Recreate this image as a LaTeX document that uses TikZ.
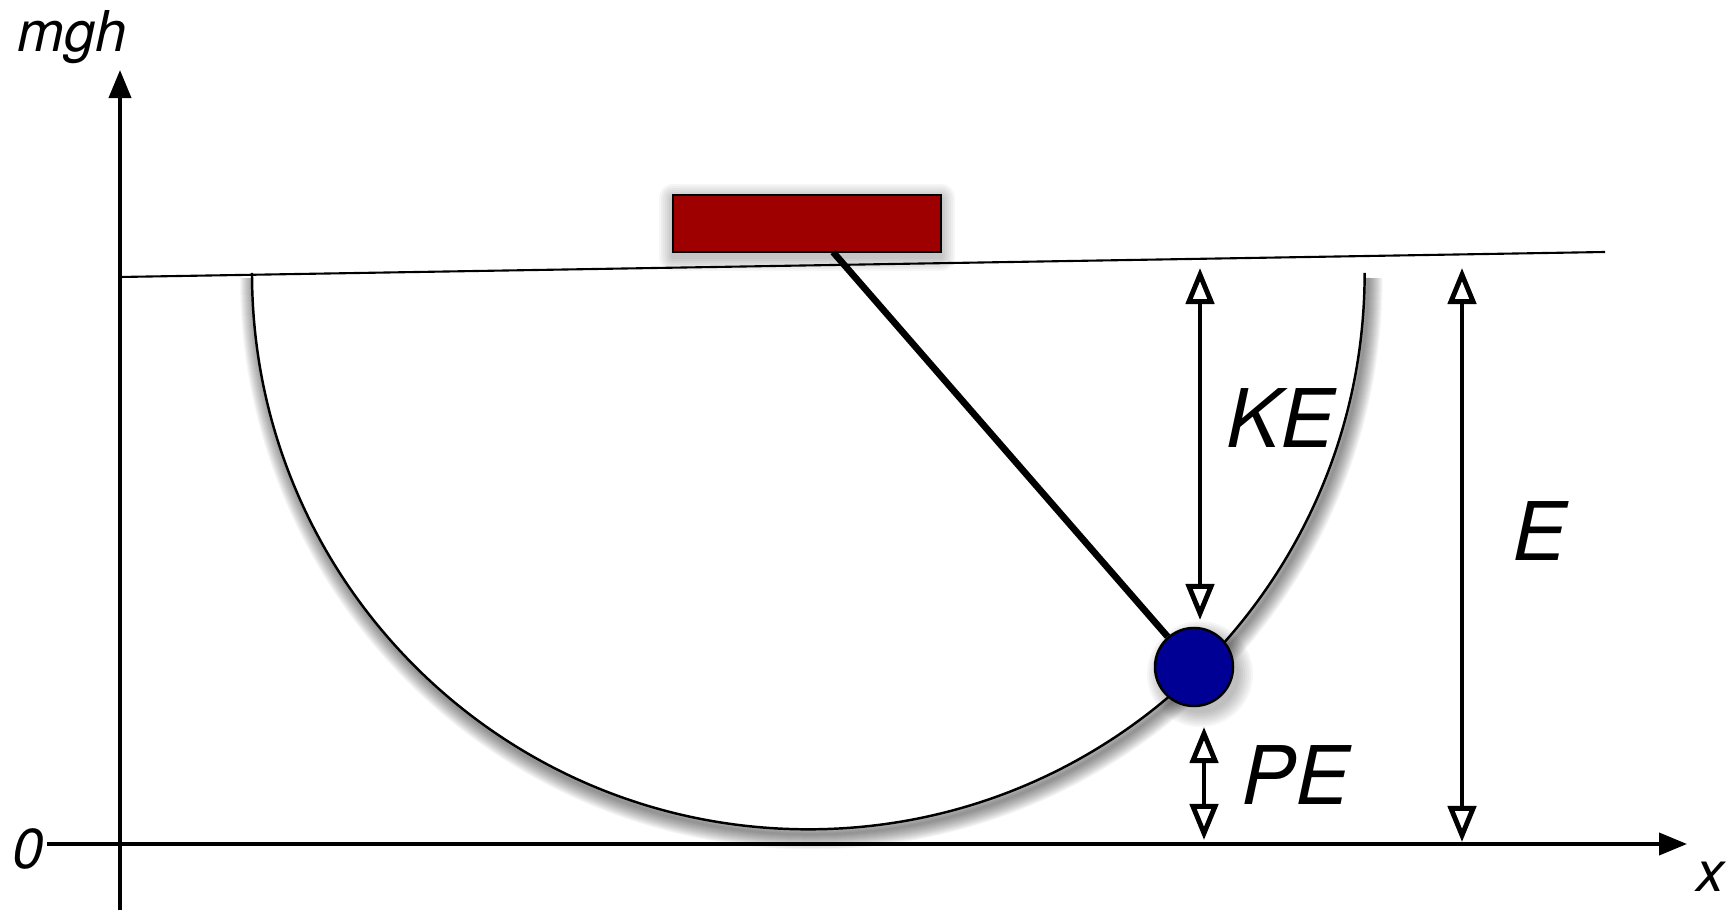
\documentclass[tikz,border=0pt]{standalone}
\usepackage{fontspec}
\setmainfont{TeX Gyre Heros}
\usepackage{xcolor}
\usetikzlibrary{arrows.meta, positioning, calc}

\definecolor{pivotred}{RGB}{158,0,0}
\definecolor{bobblue}{RGB}{0,0,148}

\begin{document}
\begin{tikzpicture}[
    x=0.01cm, y=-0.01cm,
    every node/.style={font=\fontsize{16}{19}\selectfont\itshape, inner sep=0pt},
    biglbl/.style={font=\fontsize{23}{27}\selectfont\itshape},
    axis/.style={-{Triangle[width=0.22cm, length=0.28cm]}, line width=1.1pt},
    level/.style={line width=0.6pt},
    energy/.style={{Triangle[open, width=0.28cm, length=0.36cm]}-{Triangle[open, width=0.28cm, length=0.36cm]}, line width=1.4pt},
    pivot/.style={rectangle, draw, line width=0.8pt, fill=pivotred, minimum width=2.68cm, minimum height=0.57cm},
    bob/.style={circle, draw, line width=0.7pt, fill=bobblue, minimum size=0.78cm},
    rod/.style={line width=1.9pt},
    shade/.style={black, opacity=0.035}
]
    \useasboundingbox (0,0) rectangle (1733,910);

    % bowl with its soft shadow
    \coordinate (bowlL) at (252,273);
    \foreach \w in {2,4,...,30}
        \draw[shade, line width=\w*0.01cm] ($(bowlL)+(3,5)$) arc[start angle=180, end angle=360, radius=5.56cm];
    \fill[white] (bowlL) arc[start angle=180, end angle=360, radius=5.56cm] -- cycle;
    \draw[level, line width=0.7pt] (bowlL) arc[start angle=180, end angle=360, radius=5.56cm];

    % total energy level
    \coordinate (elevL) at (120,277);
    \coordinate (elevR) at (1605,252);
    \draw[level] (elevL) -- (elevR);

    % axes
    \coordinate (ybot) at (120,910);
    \coordinate (ytop) at (120,70);
    \coordinate (xleft) at (47,844);
    \coordinate (xright) at (1687,844);
    \draw[axis] (ybot) -- (ytop);
    \draw[axis] (xleft) -- (xright);

    % energy arrows
    \coordinate (ketop) at (1200,268);
    \coordinate (kebot) at (1200,620);
    \coordinate (etop) at (1462,268);
    \coordinate (ebot) at (1462,842);
    \coordinate (petop) at (1204,727);
    \coordinate (pebot) at (1204,840);
    \draw[energy] (ketop) -- (kebot);
    \draw[energy] (etop) -- (ebot);
    \draw[energy] (petop) -- (pebot);

    % bob
    \foreach \r in {39,41,...,53}
        \fill[shade] (1200,674) circle[radius=\r*0.01cm];
    \node[bob] (bob) at (1194,667) {};

    % pivot
    \foreach \d in {2,4,...,14}
        \fill[shade, rounded corners=\d*0.01cm] (673-\d,198-\d) rectangle (941+\d,257+\d);
    \node[pivot] (pivot) at (807,223.5) {};
    \coordinate (rodtop) at (833,252);
    \draw[rod] (rodtop) -- (bob);

    % labels
    \node[anchor=base west] (mgh) at (17,52) {mgh};
    \node[anchor=base west] (zero) at (12,868) {0};
    \node[anchor=base west] (xlbl) at (1696,892) {x};
    \node[biglbl, anchor=base west] (ke) at (1226,448) {KE};
    \node[biglbl, anchor=base west] (etot) at (1512,561) {E};
    \node[biglbl, anchor=base west] (pe) at (1241,805) {PE};
\end{tikzpicture}
\end{document}
